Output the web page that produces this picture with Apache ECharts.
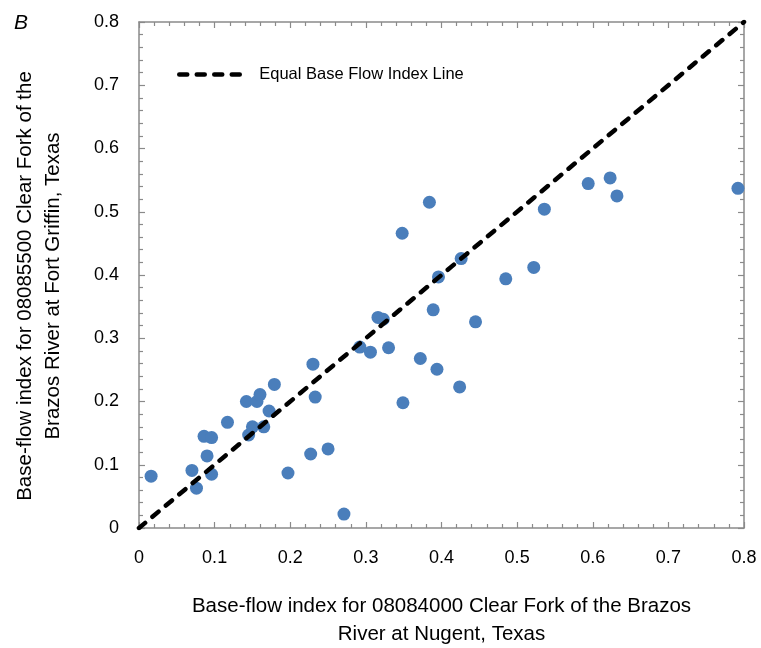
<!DOCTYPE html>
<html>
<head>
<meta charset="utf-8">
<script src="https://cdn.jsdelivr.net/npm/echarts@6/dist/echarts.min.js"></script>
<style>
  html, body { margin: 0; padding: 0; background: #fff; }
  #chart { width: 761px; height: 648px; }
</style>
</head>
<body>
<div id="chart"></div>
<script>
// Base-flow index pairs: Nugent (x) vs. Fort Griffin (y)
var nugentBFI = [
  0.016, 0.070, 0.076, 0.086, 0.090, 0.096, 0.096, 0.117, 0.142, 0.145,
  0.150, 0.156, 0.160, 0.165, 0.172, 0.179, 0.197, 0.227, 0.230, 0.233,
  0.250, 0.271, 0.292, 0.306, 0.316, 0.323, 0.330, 0.348, 0.349, 0.372,
  0.384, 0.389, 0.394, 0.396, 0.424, 0.426, 0.445, 0.485, 0.522, 0.536,
  0.594, 0.623, 0.632, 0.792
];
var fortGriffinBFI = [
  0.082, 0.091, 0.063, 0.145, 0.114, 0.143, 0.085, 0.167, 0.200, 0.147,
  0.160, 0.200, 0.211, 0.160, 0.185, 0.227, 0.087, 0.117, 0.259, 0.207,
  0.125, 0.022, 0.286, 0.278, 0.333, 0.330, 0.285, 0.466, 0.198, 0.268,
  0.515, 0.345, 0.251, 0.397, 0.223, 0.426, 0.326, 0.394, 0.412, 0.504,
  0.5445, 0.5535, 0.525, 0.537
];
// 1:1 reference line endpoints
var equalLineEnds = [0, 0.8];
var tickLabels = ['0', '0.1', '0.2', '0.3', '0.4', '0.5', '0.6', '0.7', '0.8'];

var FONT = "'Liberation Sans', Arial, sans-serif";
var AXIS_GRAY = '#8a8a8a';
var DASH = [8, 9.5];

var points = nugentBFI.map(function (x, i) { return [x, fortGriffinBFI[i]]; });
var lineData = equalLineEnds.map(function (v) { return [v, v]; });

function labelFor(v) { return tickLabels[Math.round(v * 10)]; }

function axisBase(extra) {
  var a = {
    type: 'value', min: 0, max: 0.8, interval: 0.1,
    axisLine: { show: true, onZero: false, lineStyle: { color: AXIS_GRAY, width: 1.5 } },
    axisTick: { show: true, inside: true, length: 6, lineStyle: { color: AXIS_GRAY, width: 1.2 } },
    minorTick: { show: true, splitNumber: 5, length: 4, lineStyle: { color: AXIS_GRAY, width: 1.2 } },
    splitLine: { show: false },
    minorSplitLine: { show: false }
  };
  for (var k in extra) a[k] = extra[k];
  return a;
}

var chart = echarts.init(document.getElementById('chart'), null, { renderer: 'canvas' });
chart.setOption({
  backgroundColor: '#ffffff',
  animation: false,
  textStyle: { fontFamily: FONT },
  grid: { left: 139, right: 17, top: 22, bottom: 120, containLabel: false, outerBoundsMode: 'none' },
  legend: {
    data: ['Equal Base Flow Index Line'],
    left: 172, top: 61,
    itemWidth: 65, itemHeight: 14, itemGap: 10,
    itemStyle: { opacity: 0 },
    lineStyle: { color: '#000', width: 4.5, type: DASH, cap: 'round' },
    textStyle: { fontFamily: FONT, fontSize: 16.5, color: '#000', padding: [0, 0, 0, 10] }
  },
  graphic: [{
    type: 'text', left: 14, top: 13,
    style: { text: 'B', font: 'italic 21px ' + FONT, fill: '#000' }
  }],
  xAxis: [
    axisBase({
      position: 'bottom',
      name: 'Base-flow index for 08084000 Clear Fork of the Brazos\nRiver at Nugent, Texas',
      nameLocation: 'middle', nameGap: 64,
      nameTextStyle: { fontFamily: FONT, fontSize: 20.5, color: '#000', lineHeight: 28 },
      axisLabel: { show: true, margin: 21, fontSize: 18, color: '#000', fontFamily: FONT, formatter: labelFor }
    }),
    axisBase({ position: 'top', axisLabel: { show: false } })
  ],
  yAxis: [
    axisBase({
      position: 'left',
      name: 'Base-flow index for 08085500 Clear Fork of the\nBrazos River at Fort Griffin, Texas',
      nameLocation: 'middle', nameGap: 72,
      nameTextStyle: { fontFamily: FONT, fontSize: 20.5, color: '#000', lineHeight: 28, padding: [0, 22, 0, 0] },
      axisLabel: { show: true, margin: 20, fontSize: 18, color: '#000', fontFamily: FONT, formatter: labelFor }
    }),
    axisBase({ position: 'right', axisLabel: { show: false } })
  ],
  series: [
    {
      type: 'scatter', name: 'Base-flow index',
      xAxisIndex: 0, yAxisIndex: 0,
      data: points, symbol: 'circle', symbolSize: 13,
      itemStyle: { color: '#4a7ebb', opacity: 1 },
      z: 2
    },
    {
      type: 'line', name: 'Equal Base Flow Index Line',
      xAxisIndex: 0, yAxisIndex: 0,
      data: lineData, showSymbol: false, symbol: 'none',
      lineStyle: { color: '#000', width: 4.5, type: DASH, cap: 'round' },
      itemStyle: { color: '#000' },
      z: 3
    }
  ]
});
</script>
</body>
</html>
